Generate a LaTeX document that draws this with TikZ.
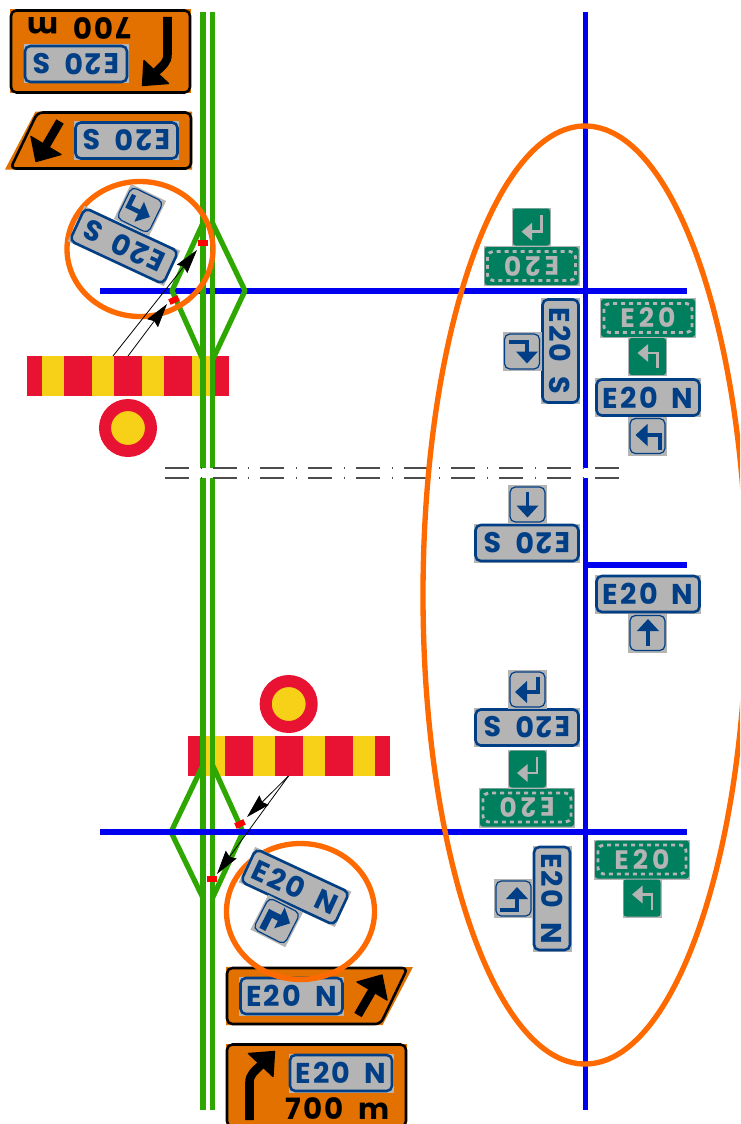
\documentclass[tikz,border=0pt]{standalone}
\usepackage{fontspec}
\setmainfont{Poppins}
\newfontfamily\platefont[LetterSpace=8,WordSpace=1.7]{Poppins}
\newfontfamily\guidefont[LetterSpace=15]{Poppins}
\usetikzlibrary{arrows.meta}
\definecolor{roadgreen}{HTML}{2EA800}
\definecolor{roadblue}{HTML}{0000F0}
\definecolor{ringorange}{HTML}{FF6A00}
\definecolor{signorange}{HTML}{E27100}
\definecolor{plategrey}{HTML}{B4B4B4}
\definecolor{plateblue}{HTML}{003E86}
\definecolor{guidegreen}{HTML}{007F5F}
\definecolor{barred}{HTML}{E81233}
\definecolor{baryellow}{HTML}{F7D117}
\newcommand{\plateedge}[3]{%
  \fill[plategrey] (-#1/2,-#2/2) rectangle (#1/2,#2/2);
  \draw[blueedge, fill=plategrey] (-#1/2+1.5,-#2/2+1.5) rectangle (#1/2-1.5,#2/2-1.5);
  \node[platetext, text=plateblue] (-label) at (0,0) {#3};}
\tikzset{
  road/.style       = {draw=roadgreen, line width=4.3pt},
  sliproad/.style   = {draw=roadgreen, line width=3.9pt, line join=round},
  crossroad/.style  = {draw=roadblue, line width=4.4pt},
  breakline/.style  = {draw=black!70, line width=.8pt, dash pattern=on 18pt off 8.8pt on .6pt off 8.4pt},
  ring/.style       = {draw=ringorange, line width=4pt},
  stripebar/.style  = {rectangle, fill=barred, minimum width=151.5pt, minimum height=30pt, inner sep=0pt, outer sep=0pt},
  stripe/.style     = {fill=baryellow},
  limitdisc/.style  = {circle, fill=baryellow, draw=barred, line width=9pt, minimum size=34.5pt, inner sep=0pt},
  redmark/.style    = {rectangle, fill=red, minimum width=7.5pt, minimum height=4.5pt, inner sep=0pt},
  signal/.style     = {draw=black, line width=.6pt, -{Stealth[length=18pt,width=10pt,inset=2pt]}},
  platetext/.style  = {transform shape, inner sep=0pt, font=\platefont\bfseries\fontsize{21.5}{21.5}\selectfont},
  signtext/.style   = {platetext, text=black, font=\platefont\bfseries\fontsize{22}{22}\selectfont},
  blueedge/.style   = {draw=plateblue, line width=1.9pt, rounded corners=4pt},
  thinedge/.style   = {draw=plateblue, line width=.9pt, rounded corners=4pt},
  blueturn/.style   = {draw=plateblue, line width=3.4pt, -{Triangle[length=9pt,width=16pt]}},
  boldturn/.style   = {draw=plateblue, line width=5pt, -{Triangle[length=9pt,width=17pt]}},
  bluestem/.style   = {draw=plateblue, line width=2.4pt, -{Triangle[length=9pt,width=16pt]}},
  greenturn/.style  = {draw=plategrey, line width=2.2pt, -{Triangle[length=8pt,width=13pt]}},
  blackstem/.style  = {draw=black, line width=6.4pt},
  blackhead/.style  = {fill=black, draw=black, line width=1pt, line join=round},
  pics/routeplate/.style n args={3}{code={\plateedge{#1}{#2}{#3}}},
  pics/guideplate/.style={code={
    \fill[plategrey] (-48,-20) rectangle (48,20);
    \fill[guidegreen, rounded corners=2pt] (-47,-19) rectangle (47,19);
    \draw[draw=plategrey, line width=2.2pt, rounded corners=4pt, dash pattern=on 3pt off 3pt] (-44,-14.5) rectangle (44,14.5);
    \node[platetext, text=plategrey, font=\guidefont\bfseries\fontsize{20}{20}\selectfont] (-label) at (0,0) {#1};
  }},
  pics/turnplate/.style 2 args={code={
    \fill[plategrey] (-19.5,-19.5) rectangle (19.5,19.5);
    \draw[thinedge] (-17.5,-17.5) rectangle (17.5,17.5);
    \draw[#2] #1;
  }},
  pics/greenturnplate/.style={code={
    \fill[plategrey] (-19.5,-19.5) rectangle (19.5,19.5);
    \fill[guidegreen, rounded corners=2pt] (-18.5,-18.5) rectangle (18.5,18.5);
    \draw[greenturn] #1;
  }},
  pics/distancesign/.style={code={
    \fill[signorange] (-90.5,-42) rectangle (90.5,42);
    \draw[draw=black, line width=1.9pt, rounded corners=4pt] (-89.5,-41) rectangle (89.5,41);
    \draw[blackstem] (-67,34.5) -- (-67,-3) .. controls (-67,-11) and (-62,-14) .. (-55.7,-20.5);
    \fill[blackhead] (-68,-32) -- (-42,-34) -- (-43.5,-9) -- cycle;
    \begin{scope}[shift={(24.5,-12.5)}]
      \plateedge{105}{39}{#1}
    \end{scope}
    \node[signtext] (-dist) at (21,23) {700 m};
  }},
  pics/exitsign/.style={code={
    \fill[signorange] (-93.5,-29) -- (93.5,-29) -- (63,29) -- (-93.5,29) -- cycle;
    \draw[draw=black, line width=1.9pt, rounded corners=4pt] (-92.5,-28) -- (88,-28) -- (61,28) -- (-92.5,28) -- cycle;
    \draw[blackstem] (38.5,19) -- (52.5,-5);
    \fill[blackhead] (37.5,-14) -- (62.5,-21) -- (67.5,4) -- cycle;
    \begin{scope}[shift={(-28,0)}]
      \plateedge{105}{39}{#1}
    \end{scope}
  }}
}
\begin{document}
\begin{tikzpicture}[x=.75pt,y=-.75pt]
  \path[use as bounding box, clip] (0,0) rectangle (740,1124);

  \node[stripebar] (barS) at (128,376) {};
  \foreach \sx in {41.7,91.7,141.7,191.7}
    \fill[stripe] (\sx,356) rectangle ++(22.7,40);
  \node[stripebar] (barN) at (288.5,756) {};
  \foreach \sx in {202.5,252.7,302.7,352.7}
    \fill[stripe] (\sx,736) rectangle ++(22.5,40);
  \node[limitdisc] (discS) at (128,428) {};
  \node[limitdisc] (discN) at (288.7,704) {};

  \draw[crossroad] (585.5,12) -- (585.5,1110);
  \draw[crossroad] (585.5,565.3) -- (687,565.3);
  \draw[crossroad] (100,290.7) -- (687,290.7);

  \draw[road] (203,12) -- (203,1110);
  \draw[road] (212.5,12) -- (212.5,1110);
  \draw[sliproad] (203,223) -- (172,290.7) -- (203,360);
  \draw[sliproad] (212.5,223) -- (245,290.7) -- (212.5,360);
  \draw[sliproad] (203,765) -- (171,832) -- (203,898);
  \draw[sliproad] (212.5,765) -- (243,832) -- (212.5,898);
  \draw[crossroad] (100,832) -- (687,832);

  \fill[white] (195,468) rectangle (595,478);
  \draw[breakline] (165,468) -- (619,468);
  \draw[breakline] (165,478) -- (619,478);

  \pic (exitS) at (98.5,140.5) [rotate=180] {exitsign={E20 S}};
  \pic (exitN) at (319.5,996) {exitsign={E20 N}};
  \pic (distS) at (100.5,51.5) [rotate=180] {distancesign={E20 S}};
  \pic (distN) at (316.5,1085.5) {distancesign={E20 N}};

  \draw[ring] (585,595) ellipse [x radius=162, y radius=469];
  \draw[ring] (140,249) ellipse [x radius=73, y radius=67.5];
  \draw[ring] (300.5,911.5) ellipse [x radius=74, y radius=68];

  \pic (diagS) at (124,246) [rotate=155] {routeplate={106}{39}{E20 S}};
  \pic (diagSturn) at (140,210) [rotate=-26] {turnplate={(-12,-11) -- (-12,2) -- (12,2)}{blueturn}};
  \pic (diagN) at (295,887) [rotate=-25] {routeplate={106}{39}{E20 N}};
  \pic (diagNturn) at (276.7,921) [rotate=-27] {turnplate={(-9,14) -- (-9,-4) -- (13,-4)}{boldturn}};

  \pic (gTop) at (531.5,266) [rotate=180] {guideplate={E20}};
  \pic (gTopturn) at (531.5,227) {greenturnplate={(10,-12) -- (10,4.7) -- (-10,4.7)}};
  \pic (gRight) at (648,318) {guideplate={E20}};
  \pic (gRightturn) at (647.5,356.5) {greenturnplate={(10,11.5) -- (10,-3.5) -- (-10,-3.5)}};
  \pic (pRight) at (648,397.5) {routeplate={106}{39}{E20 N}};
  \pic (pRightturn) at (647.5,436) {turnplate={(12.5,14) -- (12.5,-1) -- (-12,-1)}{blueturn}};
  \pic (pLeft) at (560.5,351) [rotate=-90] {routeplate={106}{39}{E20 S}};
  \pic (pLeftturn) at (522,351.5) {turnplate={(-13,-9.5) -- (5,-9.5) -- (5,12)}{blueturn}};

  \pic (pMidS) at (527,543) [rotate=180] {routeplate={106}{39}{E20 S}};
  \pic (pMidSturn) at (527.5,504.5) {turnplate={(0,-13) -- (0,13)}{bluestem}};
  \pic (pMidN) at (648,594) {routeplate={106}{39}{E20 N}};
  \pic (pMidNturn) at (647.5,633) {turnplate={(.5,13) -- (.5,-14)}{bluestem}};

  \pic (pLowS) at (527,727.5) [rotate=180] {routeplate={106}{39}{E20 S}};
  \pic (pLowSturn) at (527.5,689.5) {turnplate={(10.5,-12.5) -- (10.5,2.5) -- (-12.5,2.5)}{blueturn}};
  \pic (gLow) at (527,807.5) [rotate=180] {guideplate={E20}};
  \pic (gLowturn) at (527.5,769) {greenturnplate={(9.5,-12) -- (9.5,4) -- (-10.5,4)}};
  \pic (gRightN) at (642,859.5) {guideplate={E20}};
  \pic (gRightNturn) at (642,898) {greenturnplate={(10,11.5) -- (10,-3.5) -- (-10,-3.5)}};
  \pic (pLowN) at (552,898.5) [rotate=-90] {routeplate={106}{39}{E20 N}};
  \pic (pLowNturn) at (513.5,898.5) {turnplate={(-13.5,11.5) -- (3.5,11.5) -- (3.5,-11.5)}{blueturn}};

  \node[redmark] (markA) at (203,243) {};
  \node[redmark, rotate=25] (markB) at (174,300) {};
  \node[redmark, rotate=25] (markC) at (240,824) {};
  \node[redmark] (markD) at (212,879) {};

  \coordinate (tipA) at (197,250);
  \coordinate (tipB) at (167,304);
  \coordinate (tipC) at (247,817);
  \coordinate (tipD) at (217,874);
  \draw[signal] ([xshift=-11.25pt]barS.north) -- (tipA);
  \draw[signal] (barS.north) -- (tipB);
  \draw[signal] (barN.south) -- (tipC);
  \draw[signal] (barN.south) -- (tipD);
\end{tikzpicture}
\end{document}
